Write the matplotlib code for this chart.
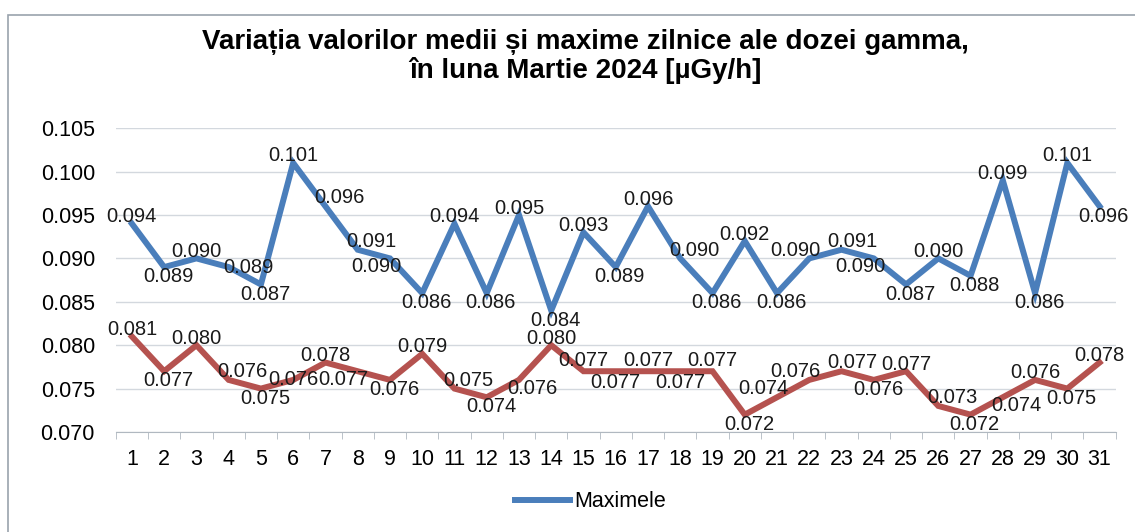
import matplotlib.pyplot as plt
from matplotlib.patches import Rectangle

# Daily gamma dose values, March 2024 [uGy/h]
days = list(range(1, 32))
maxime = [0.094, 0.089, 0.090, 0.089, 0.087, 0.101, 0.096, 0.091, 0.090, 0.086,
          0.094, 0.086, 0.095, 0.084, 0.093, 0.089, 0.096, 0.090, 0.086, 0.092,
          0.086, 0.090, 0.091, 0.090, 0.087, 0.090, 0.088, 0.099, 0.086, 0.101,
          0.096]
medii = [0.081, 0.077, 0.080, 0.076, 0.075, 0.076, 0.078, 0.077, 0.076, 0.079,
         0.075, 0.074, 0.076, 0.080, 0.077, 0.077, 0.077, 0.077, 0.077, 0.072,
         0.074, 0.076, 0.077, 0.076, 0.077, 0.073, 0.072, 0.074, 0.076, 0.075,
         0.078]
y_ticks = [0.070, 0.075, 0.080, 0.085, 0.090, 0.095, 0.100, 0.105]

blue = '#4a7ebb'
red = '#b5524f'
plt.rcParams['font.family'] = ['Liberation Sans', 'DejaVu Sans']

fig = plt.figure(figsize=(11.35, 5.32), dpi=100)
ax = fig.add_axes([0.102, 0.188, 0.881, 0.571])

# outer chart frame
fig.patches.append(Rectangle((0.007, -0.02), 1.0, 0.992, transform=fig.transFigure,
                             fill=False, edgecolor='#9aa3ad', linewidth=1.2))

line_max, = ax.plot(days, maxime, color=blue, linewidth=4.3, solid_joinstyle='miter',
                    label='Maximele', zorder=3)
ax.plot(days, medii, color=red, linewidth=4.3, solid_joinstyle='miter', zorder=3)

ax.set_xlim(0.5, 31.5)
ax.set_ylim(0.070, 0.105)

renderer = fig.canvas.get_renderer()
placed = []


def candidates(prev_v, v, next_v):
    if v == prev_v or v == next_v:
        return [(0, 8), (0, -8), (10, 8), (10, -8)]
    if (prev_v is None or v > prev_v) and (next_v is None or v > next_v):
        return [(0, 5), (-8, 6), (8, 6), (0, 12)]
    if (prev_v is None or v < prev_v) and (next_v is None or v < next_v):
        return [(3, -7), (-8, -8), (8, -8), (0, -13)]
    if v < prev_v:  # descending slope
        return [(10, 6), (-10, -6), (14, 0), (-14, -2), (0, 0)]
    return [(-10, 6), (10, -6), (-14, 0), (14, -2), (0, 0)]


def add_labels(values):
    n = len(values)
    for i, v in enumerate(values):
        prev_v = values[i - 1] if i > 0 else None
        next_v = values[i + 1] if i < n - 1 else None
        cands = candidates(prev_v, v, next_v)
        ann = ax.annotate(f'{v:.3f}', (days[i], v), xytext=cands[0],
                          textcoords='offset points', ha='center', va='center',
                          fontsize=14.5, color='#1a1a1a', zorder=4)
        for off in cands:
            ann.xyann = off
            bb = ann.get_window_extent(renderer).expanded(1.0, 0.85)
            if not any(bb.overlaps(p) for p in placed):
                break
        else:
            ann.xyann = cands[0]
            bb = ann.get_window_extent(renderer).expanded(1.0, 0.85)
        placed.append(bb)


add_labels(maxime)
add_labels(medii)

ax.set_yticks(y_ticks)
ax.set_yticklabels([f'{t:.3f}' for t in y_ticks], fontsize=15.5)
ax.set_xticks(days)
ax.set_xticklabels([str(d) for d in days], fontsize=15.5)
ax.set_xticks([d + 0.5 for d in range(0, 32)], minor=True)
ax.tick_params(axis='x', which='major', length=0, pad=12)
ax.tick_params(axis='x', which='minor', length=5, color='#b0b8c0')
ax.tick_params(axis='y', length=0, pad=15)
ax.grid(axis='y', color='#d3d8de', linewidth=1.0)
ax.set_axisbelow(True)
for side in ['top', 'right', 'left']:
    ax.spines[side].set_visible(False)
ax.spines['bottom'].set_color('#b0b8c0')

fig.text(0.516, 0.893, 'Variația valorilor medii și maxime zilnice ale dozei gamma,\n'
         'în luna Martie 2024 [µGy/h]', ha='center', va='center', fontsize=20,
         fontweight='bold', linespacing=1.1)

fig.legend(handles=[line_max], loc='center', bbox_to_anchor=(0.52, 0.057), frameon=False,
           fontsize=15.5, handlelength=2.55, handletextpad=0.2)

fig.savefig('out.png', dpi=100)
